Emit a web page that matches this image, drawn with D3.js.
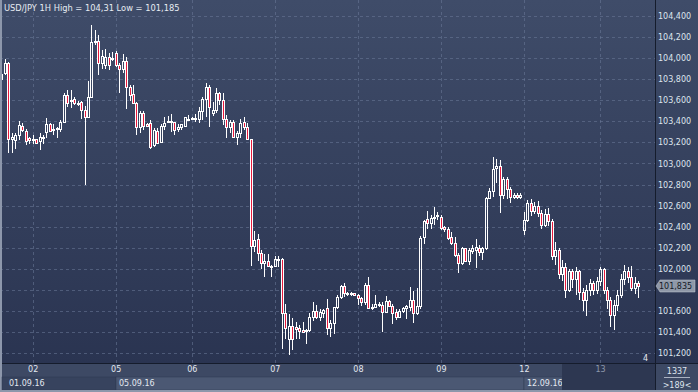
<!DOCTYPE html>
<html><head><meta charset="utf-8">
<script src="https://cdn.jsdelivr.net/npm/d3@7"></script>
<style>html,body{margin:0;padding:0;background:#2c3653;overflow:hidden}svg{display:block}</style>
</head><body>
<script>
// ---- data (USD/JPY 1H) ----
const openP = [103.80,103.856,103.957,103.23,103.22,103.27,103.36,103.31,103.24,103.23,103.23,103.21,103.245,103.30,103.37,103.325,103.33,103.325,103.397,103.65,103.60,103.61,103.575,103.585,103.507,103.44,103.63,104.15,104.165,103.95,
103.935,104.007,103.99,104.045,103.935,103.894,103.973,103.723,103.659,103.571,103.343,103.476,103.374,103.387,103.175,103.311,103.207,103.355,103.40,103.403,103.39,103.33,103.349,103.355,103.42,103.428,103.428,103.419,103.501,103.612,
103.723,103.482,103.507,103.672,103.602,103.418,103.343,103.39,103.254,103.292,103.396,103.343,103.229,102.216,102.28,102.152,102.057,102.073,102.03,102.026,102.089,102.089,101.583,101.33,101.456,101.445,101.433,101.42,101.41,101.423,
101.54,101.60,101.545,101.577,101.624,101.434,101.488,101.633,101.728,101.836,101.773,101.765,101.766,101.75,101.72,101.687,101.846,101.624,101.64,101.66,101.655,101.592,101.697,101.646,101.592,101.545,101.60,101.624,101.633,101.703,
101.576,101.646,102.298,102.469,102.437,102.478,102.50,102.494,102.393,102.374,102.304,102.247,102.13,102.057,102.193,102.073,102.171,102.177,102.193,102.162,102.193,102.668,102.741,102.953,102.975,102.70,102.848,102.753,102.677,102.70,
102.677,102.37,102.46,102.62,102.55,102.60,102.53,102.42,102.52,102.45,102.12,102.18,101.95,102.02,101.80,101.98,101.90,101.98,101.78,101.70,101.80,101.86,101.80,101.88,102.00,101.80,101.70,101.56,101.66,101.75,
101.90,101.98,101.92,101.82,101.86];
const highP = [103.87,103.99,103.96,103.285,103.29,103.40,103.38,103.33,103.25,103.27,103.235,103.29,103.27,103.43,103.38,103.37,103.35,103.41,103.665,103.70,103.70,103.63,103.59,103.59,103.55,103.78,104.31,104.27,104.22,104.08,
104.083,104.045,104.06,104.07,103.95,104.04,104.01,103.745,103.745,103.58,103.501,103.501,103.38,103.412,103.333,103.333,103.374,103.444,103.45,103.47,103.397,103.374,103.374,103.44,103.46,103.444,103.47,103.533,103.635,103.767,
103.745,103.586,103.72,103.68,103.665,103.46,103.41,103.412,103.31,103.42,103.437,103.38,103.235,102.358,102.33,102.178,102.14,102.14,102.035,102.12,102.117,102.098,101.67,101.57,101.53,101.49,101.465,101.49,101.43,101.58,
101.68,101.655,101.614,101.62,101.709,101.513,101.64,101.75,101.845,101.862,101.78,101.775,101.77,101.76,101.735,101.86,101.925,101.67,101.75,101.687,101.68,101.74,101.703,101.67,101.614,101.614,101.633,101.655,101.83,101.79,
101.814,102.31,102.462,102.55,102.51,102.583,102.54,102.51,102.405,102.40,102.35,102.30,102.146,102.209,102.20,102.193,102.225,102.28,102.225,102.209,102.684,102.763,103.057,103.04,103.032,102.874,102.874,102.779,102.715,102.72,
102.72,102.54,102.65,102.66,102.63,102.64,102.56,102.57,102.58,102.47,102.25,102.20,102.08,102.05,102.00,102.00,102.02,101.99,101.82,101.85,101.90,101.88,101.92,102.02,102.01,101.83,101.73,101.70,101.80,101.95,
102.04,102.02,102.03,101.92,101.88];
const lowP = [103.60,103.84,103.102,103.10,103.14,103.22,103.30,103.175,103.185,103.18,103.185,103.13,103.185,103.24,103.30,103.27,103.24,103.30,103.38,103.54,103.53,103.555,103.55,103.42,102.80,103.43,103.62,104.12,103.84,103.90,
103.894,103.887,103.97,103.92,103.672,103.856,103.514,103.59,103.56,103.27,103.29,103.317,103.349,103.134,103.159,103.19,103.191,103.317,103.39,103.302,103.27,103.30,103.317,103.35,103.40,103.412,103.397,103.387,103.412,103.44,
103.343,103.45,103.482,103.555,103.365,103.238,103.285,103.238,103.175,103.238,103.32,103.22,102.026,102.162,102.076,101.994,101.925,102.013,101.925,102.013,102.02,101.234,101.33,101.185,101.228,101.33,101.33,101.386,101.285,101.40,
101.50,101.52,101.507,101.535,101.371,101.355,101.38,101.614,101.71,101.735,101.74,101.745,101.745,101.655,101.646,101.656,101.62,101.608,101.633,101.64,101.402,101.576,101.633,101.48,101.513,101.53,101.576,101.52,101.60,101.488,
101.56,101.62,102.234,102.374,102.374,102.415,102.46,102.367,102.35,102.272,102.225,102.114,101.956,102.035,102.06,102.035,102.14,102.003,102.12,102.082,102.177,102.658,102.684,102.817,102.526,102.658,102.658,102.627,102.658,102.658,
102.658,102.32,102.44,102.50,102.52,102.49,102.38,102.40,102.41,102.08,102.04,101.90,101.88,101.72,101.78,101.82,101.75,101.70,101.60,101.55,101.74,101.75,101.76,101.84,101.76,101.62,101.45,101.42,101.60,101.72,
101.85,101.86,101.79,101.76,101.72];
const closeP = [103.85,103.957,103.232,103.25,103.27,103.365,103.32,103.21,103.22,103.235,103.19,103.255,103.25,103.37,103.31,103.33,103.335,103.397,103.65,103.57,103.59,103.57,103.57,103.507,103.44,103.63,104.15,104.165,103.95,104.02,
104.007,103.935,104.00,103.935,103.894,103.973,103.723,103.65,103.571,103.343,103.476,103.355,103.355,103.159,103.317,103.197,103.355,103.387,103.405,103.397,103.317,103.349,103.371,103.438,103.422,103.43,103.43,103.501,103.612,103.723,
103.533,103.507,103.672,103.602,103.418,103.343,103.39,103.254,103.292,103.387,103.343,103.229,102.215,102.273,102.152,102.057,102.073,102.026,102.024,102.089,102.095,101.583,101.434,101.456,101.33,101.425,101.41,101.40,101.416,101.538,
101.60,101.545,101.592,101.608,101.434,101.488,101.633,101.728,101.836,101.773,101.76,101.76,101.75,101.72,101.687,101.846,101.624,101.64,101.662,101.665,101.592,101.697,101.646,101.583,101.538,101.602,101.624,101.646,101.703,101.576,
101.646,102.29,102.456,102.437,102.478,102.488,102.51,102.383,102.374,102.288,102.24,102.13,102.057,102.193,102.073,102.177,102.193,102.209,102.162,102.193,102.668,102.741,102.944,102.975,102.70,102.848,102.753,102.677,102.70,102.677,
102.70,102.46,102.62,102.55,102.60,102.53,102.42,102.52,102.45,102.12,102.18,101.95,102.02,101.80,101.98,101.90,101.98,101.78,101.70,101.80,101.86,101.80,101.88,102.00,101.80,101.70,101.56,101.66,101.75,101.90,
101.98,101.92,101.82,101.86,101.835];
const slotCount = 189;
const dayStarts = [9,33,55,79,103,127,151,173];
const dayLabels = ["02","05","06","07","08","09","12","13"];
const weekStarts = [0,33,151];
const weekLabels = ["01.09.16","05.09.16","12.09.16"];
const yTicks = [101.2,101.4,101.6,101.8,102.0,102.2,102.4,102.6,102.8,103.0,103.2,103.4,103.6,103.8,104.0,104.2,104.4];
const titleText = "USD/JPY 1H High = 104,31 Low = 101,185";
const lastPrice = 101.835;

// ---- drawing ----
const W = 698, H = 392, plotR = 655, plotB = 363;
const svg = d3.select("body").append("svg").attr("width", W).attr("height", H);
const defs = svg.append("defs");
const grad = defs.append("linearGradient").attr("id","bg").attr("x1",0).attr("y1",0).attr("x2",0).attr("y2",1);
grad.append("stop").attr("offset","0%").attr("stop-color","#3f4c69");
grad.append("stop").attr("offset","100%").attr("stop-color","#2a3451");
svg.append("rect").attr("width",W).attr("height",plotB).attr("fill","url(#bg)");

const x = d3.scaleBand().domain(d3.range(slotCount)).range([0.27, 0.27 + 3.46*slotCount]).padding(0);
const cx = i => x(i) + x.bandwidth()/2;
const y = d3.scaleLinear().domain([101.2,104.4]).range([353,16]);
const fmt = v => d3.format(".3f")(v).replace(".", ",");
const font = "DejaVu Sans, Verdana, sans-serif";

// grid
const grid = svg.append("g").attr("stroke","#6b7a99").attr("stroke-opacity",0.55).attr("stroke-dasharray","3,3");
grid.selectAll("line.h").data(yTicks).join("line").attr("class","h")
  .attr("x1",0).attr("x2",plotR).attr("y1",d=>Math.round(y(d))+0.5).attr("y2",d=>Math.round(y(d))+0.5);
grid.selectAll("line.v").data(dayStarts).join("line").attr("class","v")
  .attr("y1",0).attr("y2",plotB).attr("x1",d=>Math.floor(cx(d))+0.5).attr("x2",d=>Math.floor(cx(d))+0.5);

// candles
const candles = d3.range(closeP.length).map(i => ({i, o:openP[i], h:highP[i], l:lowP[i], c:closeP[i]}));
const cg = svg.append("g");
const red = "#e8193c";
candles.forEach(d => {
  const px = Math.floor(cx(d.i));
  const top = Math.round(y(Math.max(d.o,d.c)));
  let bot = Math.round(y(Math.min(d.o,d.c)));
  if (bot - top < 1) bot = top + 1;
  const hi = Math.round(y(d.h)), lo = Math.round(y(d.l));
  cg.append("line").attr("x1",px+0.5).attr("x2",px+0.5).attr("y1",Math.min(hi,top)).attr("y2",top).attr("stroke","#fff");
  cg.append("line").attr("x1",px+0.5).attr("x2",px+0.5).attr("y1",bot).attr("y2",Math.max(lo,bot)).attr("stroke","#fff");
  cg.append("rect").attr("x",px-0.5).attr("y",top+0.5).attr("width",2).attr("height",bot-top)
    .attr("fill", d.c < d.o ? red : "none").attr("stroke","#fff").attr("stroke-width",1);
});

// left frame
svg.append("rect").attr("x",0).attr("y",0).attr("width",2).attr("height",H).attr("fill","#8d97ab");

// bottom axis area
svg.append("rect").attr("x",2).attr("y",plotB).attr("width",W-2).attr("height",H-plotB).attr("fill","#3d4964");
// week panels
const wEnds = weekStarts.slice(1).map(s => Math.floor(cx(s))).concat([plotR]);
weekStarts.forEach((s,k) => {
  const x0 = k===0 ? 2 : Math.floor(cx(s));
  svg.append("rect").attr("x",x0).attr("y",377).attr("width",wEnds[k]-x0).attr("height",13)
    .attr("fill", k===0 ? "#37435e" : "#4b5873").attr("stroke", "#2e3852").attr("stroke-width",0.5);
});
svg.selectAll("text.week").data(weekStarts).join("text").attr("class","week")
  .attr("x",(d,k)=> k===0 ? 9 : Math.floor(cx(d))+3).attr("y",386)
  .attr("font-family",font).attr("font-size",8).attr("fill","#e3e8f0").text((d,k)=>weekLabels[k]);

// x axis labels via d3 axis
const xAxis = d3.axisBottom(x).tickValues(dayStarts).tickSize(0).tickPadding(0)
  .tickFormat(d => dayLabels[dayStarts.indexOf(d)]);
const xg = svg.append("g").attr("transform",`translate(0,${plotB+3})`).call(xAxis);
xg.select(".domain").remove();
xg.selectAll("text").attr("font-family",font).attr("font-size",8).attr("fill","#e3e8f0").attr("dy","0.71em");

// dark scroller region over day 13 area
svg.append("rect").attr("x",562).attr("y",plotB+1).attr("width",plotR-562).attr("height",H-plotB-3).attr("fill","#2d3751");
xg.raise();
xg.selectAll("text").filter(d => d === 173).attr("fill","#8e98ab");

// bottom frame
svg.append("rect").attr("x",0).attr("y",390).attr("width",W).attr("height",2).attr("fill","#8d97ab");

// separators
svg.append("line").attr("x1",2).attr("x2",W).attr("y1",plotB+0.5).attr("y2",plotB+0.5).attr("stroke","#151c2c");
svg.append("line").attr("x1",plotR+0.5).attr("x2",plotR+0.5).attr("y1",0).attr("y2",390).attr("stroke","#151c2c");

// y axis (labels hidden where the last-price tag sits)
const ty = Math.round(y(lastPrice));
const yAxis = d3.axisRight(y).tickValues(yTicks.filter(v => Math.abs(y(v) - ty) > 9)).tickSize(0).tickPadding(3).tickFormat(fmt);
const yg = svg.append("g").attr("transform",`translate(${plotR},0)`).call(yAxis);
yg.select(".domain").remove();
yg.selectAll("text").attr("font-family",font).attr("font-size",8).attr("fill","#dfe5ee");

// price tag
svg.append("path").attr("d",`M${plotR+1},${ty} L${plotR+5},${ty-6} L695,${ty-6} L695,${ty+6} L${plotR+5},${ty+6} Z`)
  .attr("fill","#8f98a8").attr("stroke","#c7ccd6").attr("stroke-width",0.5);
svg.append("text").attr("x",659).attr("y",ty+3).attr("font-family",font).attr("font-size",8).attr("fill","#141a26").text(fmt(lastPrice));

// title
svg.append("text").attr("x",4).attr("y",11).attr("font-family",font).attr("font-size",8.3).attr("fill","#e6ebf2").text(titleText);

// misc bottom-right
svg.append("text").attr("x",643).attr("y",361).attr("font-family",font).attr("font-size",8).attr("fill","#e6ebf2").text("4");
svg.append("text").attr("x",677).attr("y",374).attr("text-anchor","middle").attr("font-family",font).attr("font-size",8).attr("fill","#dfe5ee").text("1337");
svg.append("line").attr("x1",664).attr("x2",690).attr("y1",377.5).attr("y2",377.5).attr("stroke","#aab2c2");
svg.append("text").attr("x",677).attr("y",388).attr("text-anchor","middle").attr("font-family",font).attr("font-size",8).attr("fill","#dfe5ee").text(">189<");
</script>
</body></html>
